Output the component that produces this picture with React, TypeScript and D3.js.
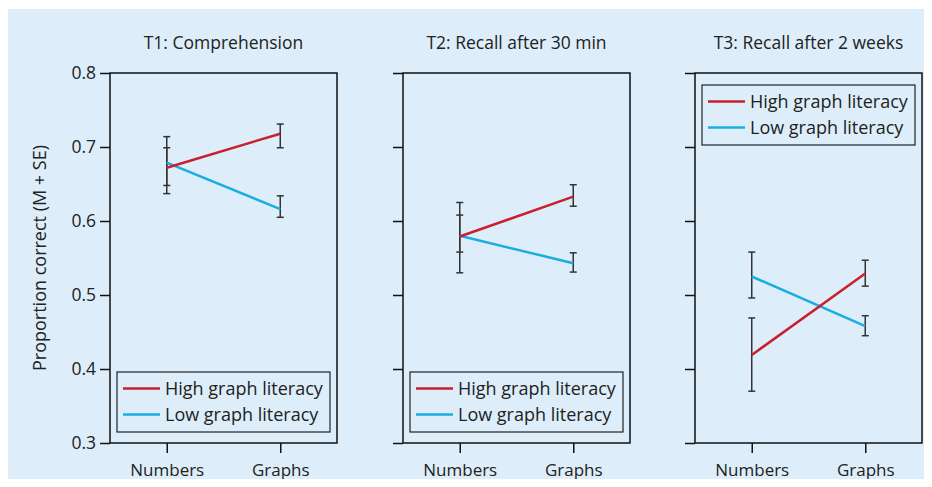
import { useRef, useEffect } from "react";
import * as d3 from "d3";

// panel titles
const titles = ["T1: Comprehension", "T2: Recall after 30 min", "T3: Recall after 2 weeks"];
const conditions = ["Numbers", "Graphs"];
const seriesNames = ["High graph literacy", "Low graph literacy"];
const yTicks = [0.3, 0.4, 0.5, 0.6, 0.7, 0.8];

// means per panel: [Numbers, Graphs]
const highMean = [[0.672, 0.718], [0.579, 0.633], [0.419, 0.529]];
const lowMean = [[0.679, 0.616], [0.580, 0.543], [0.525, 0.458]];
// error bar bounds per panel: [Numbers, Graphs]
const highLower = [[0.637, 0.699], [0.558, 0.620], [0.370, 0.512]];
const highUpper = [[0.699, 0.731], [0.625, 0.649], [0.469, 0.547]];
const lowLower = [[0.648, 0.605], [0.530, 0.531], [0.496, 0.445]];
const lowUpper = [[0.714, 0.634], [0.608, 0.557], [0.558, 0.472]];

const legendPos = ["bottom", "bottom", "top"];

const colors = ["#c8202f", "#1aaee0"];
const bg = "#ddeefa";
const font = "'Open Sans', sans-serif";

const W = 932;
const H = 487;
const plotTop = 73;
const plotBottom = 443;
const panelLefts = [110, 403, 695];
const panelW = 227;

export default function App() {
    const svgRef = useRef<SVGSVGElement>(null);

    useEffect(() => {
        const svg = d3.select(svgRef.current as SVGSVGElement);
        svg.selectAll("*").remove();

        svg.append("rect")
            .attr("x", 7).attr("y", 9)
            .attr("width", W - 7).attr("height", H - 9)
            .attr("fill", bg);

        const y = d3.scaleLinear().domain([0.3, 0.8]).range([plotBottom, plotTop]);

        titles.forEach((title, p) => {
            const left = panelLefts[p];
            const g = svg.append("g").attr("transform", `translate(${left},0)`);
            const x = d3.scalePoint<string>().domain(conditions).range([0, panelW]).padding(0.5);

            // title
            g.append("text")
                .attr("x", panelW / 2).attr("y", 49)
                .attr("text-anchor", "middle")
                .style("font-family", font).style("font-size", "17.5px").attr("fill", "#222")
                .text(title);

            // frame
            g.append("rect")
                .attr("x", 0).attr("y", plotTop)
                .attr("width", panelW).attr("height", plotBottom - plotTop)
                .attr("fill", "none").attr("stroke", "#111").attr("stroke-width", 1.5);

            // y axis
            const yAxis = g.append("g")
                .call(d3.axisLeft(y).tickValues(yTicks).tickSize(10).tickFormat(p === 0 ? d3.format(".1f") : () => ""))
                .call(a => a.select(".domain").remove());
            yAxis.selectAll(".tick line").attr("stroke", "#111").attr("stroke-width", 1.5);
            yAxis.selectAll("text")
                .style("font-family", font).style("font-size", "17.5px").attr("fill", "#222").attr("x", -14);

            // x axis
            const xAxis = g.append("g")
                .attr("transform", `translate(0,${plotBottom})`)
                .call(d3.axisBottom(x).tickSize(10).tickPadding(11))
                .call(a => a.select(".domain").remove());
            xAxis.selectAll(".tick line").attr("stroke", "#111").attr("stroke-width", 1.5);
            xAxis.selectAll("text")
                .style("font-family", font).style("font-size", "17px").attr("fill", "#222");

            const means = [highMean[p], lowMean[p]];
            const lowers = [highLower[p], lowLower[p]];
            const uppers = [highUpper[p], lowUpper[p]];

            // error bars
            means.forEach((m, s) => {
                conditions.forEach((c, i) => {
                    const cx = x(c) as number;
                    const eb = g.append("g").attr("stroke", "#333").attr("stroke-width", 1.5);
                    eb.append("line").attr("x1", cx).attr("x2", cx)
                        .attr("y1", y(lowers[s][i])).attr("y2", y(uppers[s][i]));
                    [lowers[s][i], uppers[s][i]].forEach(v => {
                        eb.append("line").attr("x1", cx - 3.5).attr("x2", cx + 3.5)
                            .attr("y1", y(v)).attr("y2", y(v));
                    });
                });
            });

            // lines
            const line = d3.line<number>()
                .x((_, i) => x(conditions[i]) as number)
                .y(d => y(d));
            [1, 0].forEach(s => {
                g.append("path")
                    .attr("d", line(means[s]))
                    .attr("fill", "none")
                    .attr("stroke", colors[s])
                    .attr("stroke-width", 2.5);
            });

            // legend
            const lx = 7;
            const lw = panelW - 14;
            const lh = 60;
            const ly = legendPos[p] === "top" ? plotTop + 12 : plotBottom - 11 - lh;
            const lg = g.append("g").attr("transform", `translate(${lx},${ly})`);
            lg.append("rect")
                .attr("width", lw).attr("height", lh)
                .attr("fill", "none").attr("stroke", "#222").attr("stroke-width", 1.2);
            seriesNames.forEach((name, s) => {
                const rowY = 16.5 + s * 26;
                lg.append("line")
                    .attr("x1", 6).attr("x2", 43)
                    .attr("y1", rowY).attr("y2", rowY)
                    .attr("stroke", colors[s]).attr("stroke-width", 2.5);
                lg.append("text")
                    .attr("x", 48).attr("y", rowY)
                    .attr("dy", "0.35em")
                    .style("font-family", font).style("font-size", "18px").attr("fill", "#222")
                    .text(name);
            });
        });

        // y axis title
        svg.append("text")
            .attr("transform", `translate(46,${(plotTop + plotBottom) / 2}) rotate(-90)`)
            .attr("text-anchor", "middle")
            .style("font-family", font).style("font-size", "18px").attr("fill", "#222")
            .text("Proportion correct (M + SE)");
    }, []);

    return <svg ref={svgRef} width={W} height={H} style={{ display: "block", margin: -8 }} />;
}
